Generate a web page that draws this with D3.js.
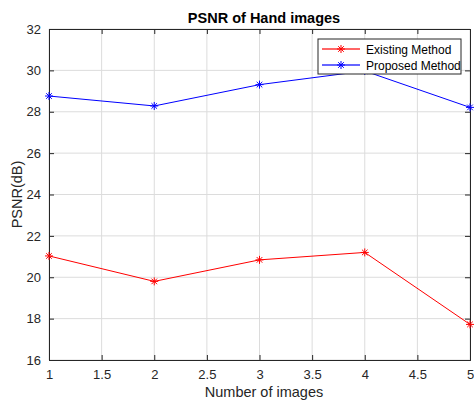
<!DOCTYPE html>
<html>
<head>
<meta charset="utf-8">
<script src="https://cdn.jsdelivr.net/npm/d3@7"></script>
<style>
  body { margin: 0; background: #fff; }
  svg { font-family: 'Liberation Sans', Arial, Helvetica, sans-serif; }
</style>
</head>
<body>
<div id="chart"></div>
<script>
let imageNumbers = [1, 2, 3, 4, 5]
let existingMethod = [21.03, 19.8, 20.84, 21.2, 17.72]
let proposedMethod = [28.76, 28.28, 29.31, 29.97, 28.21]
let xTicks = [1, 1.5, 2, 2.5, 3, 3.5, 4, 4.5, 5]
let yTicks = [16, 18, 20, 22, 24, 26, 28, 30, 32]

let margin = { top: 29, left: 49, right: 4, bottom: 40 }
let width = 474 - margin.left - margin.right
let height = 400 - margin.top - margin.bottom

let svg = d3
  .select('#chart')
  .append('svg')
  .attr('width', 474)
  .attr('height', 400)

let g = svg
  .append('g')
  .attr('transform', 'translate(' + margin.left + ',' + margin.top + ')')

let xPositionScale = d3.scaleLinear().domain([1, 5]).range([0, width])
let yPositionScale = d3.scaleLinear().domain([16, 32]).range([height, 0])

// grid
g.selectAll('.xgrid')
  .data(xTicks)
  .enter()
  .append('line')
  .attr('x1', d => xPositionScale(d))
  .attr('x2', d => xPositionScale(d))
  .attr('y1', 0)
  .attr('y2', height)
  .attr('stroke', '#dcdcdc')
g.selectAll('.ygrid')
  .data(yTicks)
  .enter()
  .append('line')
  .attr('y1', d => yPositionScale(d))
  .attr('y2', d => yPositionScale(d))
  .attr('x1', 0)
  .attr('x2', width)
  .attr('stroke', '#dcdcdc')

// axes (ticks inward, box on)
let xAxis = d3.axisBottom(xPositionScale).tickValues(xTicks).tickSize(-5).tickPadding(10).tickFormat(d3.format(''))
let yAxis = d3.axisLeft(yPositionScale).tickValues(yTicks).tickSize(-5).tickPadding(8)
let xTop = d3.axisTop(xPositionScale).tickValues(xTicks).tickSize(-5).tickFormat('')
let yRight = d3.axisRight(yPositionScale).tickValues(yTicks).tickSize(-5).tickFormat('')

g.append('g').attr('class', 'axis').attr('transform', 'translate(0,' + height + ')').call(xAxis)
g.append('g').attr('class', 'axis').call(yAxis)
g.append('g').attr('class', 'axis').call(xTop)
g.append('g').attr('class', 'axis').attr('transform', 'translate(' + width + ',0)').call(yRight)

g.selectAll('.axis path').attr('stroke', '#262626')
g.selectAll('.axis line').attr('stroke', '#262626')
g.selectAll('.axis text').attr('fill', '#262626').attr('font-size', 13).attr('font-family', null)

function star(sel, color) {
  let s = 4
  sel.append('line').attr('x1', -s).attr('x2', s).attr('y1', 0).attr('y2', 0).attr('stroke', color)
  sel.append('line').attr('x1', 0).attr('x2', 0).attr('y1', -s).attr('y2', s).attr('stroke', color)
  sel.append('line').attr('x1', -s * 0.7).attr('x2', s * 0.7).attr('y1', -s * 0.7).attr('y2', s * 0.7).attr('stroke', color)
  sel.append('line').attr('x1', -s * 0.7).attr('x2', s * 0.7).attr('y1', s * 0.7).attr('y2', -s * 0.7).attr('stroke', color)
}

let series = [
  { name: 'Existing Method', values: existingMethod, color: '#ff0000' },
  { name: 'Proposed Method', values: proposedMethod, color: '#0000ff' }
]

let line = d3
  .line()
  .x((d, i) => xPositionScale(imageNumbers[i]))
  .y(d => yPositionScale(d))

series.forEach(s => {
  g.append('path')
    .datum(s.values)
    .attr('d', line)
    .attr('fill', 'none')
    .attr('stroke', s.color)
    .attr('stroke-width', 1)
  s.values.forEach((v, i) => {
    g.append('g')
      .attr('transform', 'translate(' + xPositionScale(imageNumbers[i]) + ',' + yPositionScale(v) + ')')
      .call(star, s.color)
  })
})

// legend
let legend = svg.append('g').attr('transform', 'translate(318,39)')
legend.append('rect')
  .attr('width', 143)
  .attr('height', 35)
  .attr('fill', '#fff')
  .attr('stroke', '#262626')
series.forEach((s, i) => {
  let row = legend.append('g').attr('transform', 'translate(0,' + (10 + i * 16) + ')')
  row.append('line')
    .attr('x1', 4).attr('x2', 42).attr('y1', 0).attr('y2', 0)
    .attr('stroke', s.color).attr('stroke-opacity', 0.6).attr('stroke-width', 2)
  row.append('g').attr('transform', 'translate(23,0)').call(star, s.color)
  row.append('text')
    .attr('x', 48)
    .attr('y', 4.5)
    .attr('font-size', 12)
    .attr('fill', '#000')
    .text(s.name)
})

// titles
svg.append('text')
  .attr('x', 264)
  .attr('y', 23)
  .attr('text-anchor', 'middle')
  .attr('font-size', 14.5)
  .attr('font-weight', 'bold')
  .text('PSNR of Hand images')

svg.append('text')
  .attr('x', 264)
  .attr('y', 397)
  .attr('text-anchor', 'middle')
  .attr('font-size', 14.5)
  .attr('fill', '#262626')
  .text('Number of images')

svg.append('text')
  .attr('transform', 'translate(22,' + (margin.top + height / 2) + ') rotate(-90)')
  .attr('text-anchor', 'middle')
  .attr('font-size', 14.5)
  .attr('fill', '#262626')
  .text('PSNR(dB)')
</script>
</body>
</html>
